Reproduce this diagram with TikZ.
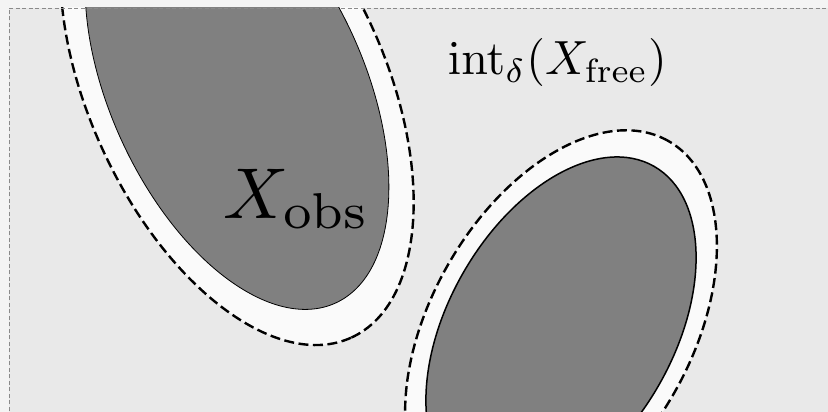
\documentclass[tikz,border=0pt]{standalone}
\definecolor{outsidecol}{HTML}{F4F4F4}
\definecolor{freebg}{HTML}{E9E9E9}
\definecolor{bandcol}{HTML}{FAFAFA}
\definecolor{obscol}{HTML}{808080}
\definecolor{bordercol}{HTML}{8A8A8A}
\tikzset{
  bandshape/.style={fill=bandcol, draw=black, line width=2.4pt, dash pattern=on 10pt off 4.5pt},
  obsshape/.style={fill=obscol, draw=black},
  frameline/.style={draw=bordercol, line width=0.9pt, dash pattern=on 4pt off 2.5pt},
  lbl/.style={anchor=base west, inner sep=0pt, text=black}
}
\begin{document}
\begin{tikzpicture}[x=1pt,y=1pt]
\useasboundingbox (0,0) rectangle (828,-412);
\begin{scope}
\clip (0,0) rectangle (828,-412);
\fill[outsidecol] (0,0) rectangle (828,-412);
\begin{scope}
\clip (9,-8) rectangle (840,-430);
\fill[freebg] (9,-8) rectangle (840,-430);
\begin{scope}[shift={(237,-87.5)}, rotate=-65.4]
  \draw[bandshape] (0,0) ellipse [x radius=275, y radius=148];
  \draw[obsshape, line width=0.8pt] (0,0) ellipse [x radius=237, y radius=127];
\end{scope}
\begin{scope}[shift={(561,-329)}, rotate=60.2]
  \draw[bandshape] (0,0) ellipse [x radius=216.5, y radius=130];
  \draw[obsshape, line width=1.5pt] (0,0) ellipse [x radius=187.4, y radius=112.8];
\end{scope}
\end{scope}
\draw[frameline] (9,-430) -- (9,-8) -- (840,-8);
\node[lbl, scale=4.8] (freelabel) at (447,-75) {$\mathrm{int}_\delta(X_{\mathrm{free}})$};
\node[lbl, scale=7.2] (obslabel) at (222,-218) {$X_{\mathrm{obs}}$};
\end{scope}
\end{tikzpicture}
\end{document}
